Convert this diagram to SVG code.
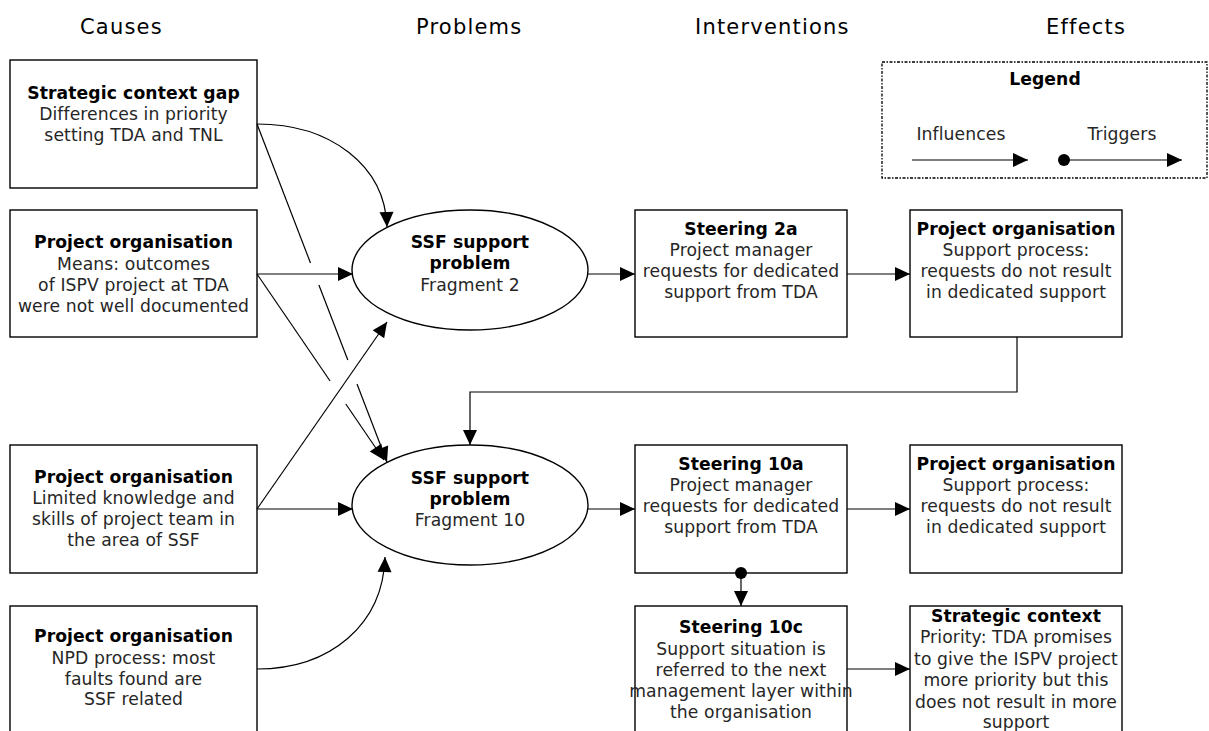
<svg xmlns="http://www.w3.org/2000/svg" width="1209" height="731" viewBox="0 0 1209 731">
  <style>
    text { font-family: "DejaVu Sans", Verdana, sans-serif; fill: #262626; }
    .hdr { font-size: 21px; letter-spacing: 1.2px; fill: #000; }
    .t { font-size: 17.2px; text-anchor: middle; letter-spacing: 0.1px; }
    .b { font-weight: bold; fill: #000; }
    .node { fill: #fff; stroke: #000; stroke-width: 1.4; }
    .edge { fill: none; stroke: #000; stroke-width: 1.2; }
    .legend-box { fill: #fff; stroke: #000; stroke-width: 1.3; stroke-dasharray: 3 1.5 1.5 1.5; }
  </style>
  <defs>
    <marker id="arrow" markerUnits="userSpaceOnUse" markerWidth="15" markerHeight="14" viewBox="0 0 15 14" refX="15" refY="7" orient="auto" overflow="visible">
      <path d="M0,0 L15,7 L0,14 Z" fill="#000"/>
    </marker>
    <marker id="dot" markerUnits="userSpaceOnUse" markerWidth="12" markerHeight="12" viewBox="0 0 12 12" refX="6" refY="6" orient="auto" overflow="visible">
      <circle cx="6" cy="6" r="6" fill="#000"/>
    </marker>
  </defs>

  <rect width="1209" height="731" fill="#fff"/>

  <!-- column headers -->
  <g id="headers">
    <text class="hdr" x="80" y="34">Causes</text>
    <text class="hdr" x="416" y="34">Problems</text>
    <text class="hdr" x="695" y="34">Interventions</text>
    <text class="hdr" x="1046" y="34">Effects</text>
  </g>

  <!-- legend -->
  <g id="legend">
    <rect class="legend-box" x="882" y="62" width="325" height="116"/>
    <text class="t b" x="1045" y="85">Legend</text>
    <text class="t" x="961" y="140">Influences</text>
    <text class="t" x="1122" y="140">Triggers</text>
    <line class="edge" x1="912" y1="160" x2="1028" y2="160" marker-end="url(#arrow)"/>
    <line class="edge" x1="1064" y1="160" x2="1182" y2="160" marker-start="url(#dot)" marker-end="url(#arrow)"/>
  </g>

  <!-- causes -->
  <g id="cause-strategic-gap">
    <rect class="node" x="10" y="60" width="247" height="128"/>
    <text class="t" x="133.5"><tspan class="b" x="133.5" y="99">Strategic context gap</tspan><tspan x="133.5" y="120">Differences in priority</tspan><tspan x="133.5" y="141">setting TDA and TNL</tspan></text>
  </g>
  <g id="cause-means">
    <rect class="node" x="10" y="210" width="247" height="127"/>
    <text class="t" x="133.5"><tspan class="b" x="133.5" y="248">Project organisation</tspan><tspan x="133.5" y="270">Means:  outcomes</tspan><tspan x="133.5" y="291">of ISPV project at TDA</tspan><tspan x="133.5" y="312">were not well documented</tspan></text>
  </g>
  <g id="cause-knowledge">
    <rect class="node" x="10" y="445" width="247" height="128"/>
    <text class="t" x="133.5"><tspan class="b" x="133.5" y="483">Project organisation</tspan><tspan x="133.5" y="504">Limited knowledge and</tspan><tspan x="133.5" y="525">skills of project team in</tspan><tspan x="133.5" y="546">the area of SSF</tspan></text>
  </g>
  <g id="cause-npd">
    <rect class="node" x="10" y="606" width="247" height="140"/>
    <text class="t" x="133.5"><tspan class="b" x="133.5" y="642">Project organisation</tspan><tspan x="133.5" y="664">NPD process:  most</tspan><tspan x="133.5" y="685">faults found are</tspan><tspan x="133.5" y="705">SSF related</tspan></text>
  </g>

  <!-- problems -->
  <g id="problem-fragment-2">
    <ellipse class="node" cx="470" cy="270" rx="118" ry="60"/>
    <text class="t" x="470"><tspan class="b" x="470" y="248">SSF support</tspan><tspan class="b" x="470" y="269">problem</tspan><tspan x="470" y="291">Fragment 2</tspan></text>
  </g>
  <g id="problem-fragment-10">
    <ellipse class="node" cx="470" cy="505" rx="118" ry="60"/>
    <text class="t" x="470"><tspan class="b" x="470" y="484">SSF support</tspan><tspan class="b" x="470" y="505">problem</tspan><tspan x="470" y="526">Fragment 10</tspan></text>
  </g>

  <!-- interventions -->
  <g id="steering-2a">
    <rect class="node" x="635" y="210" width="212" height="127"/>
    <text class="t" x="741"><tspan class="b" x="741" y="235">Steering 2a</tspan><tspan x="741" y="256">Project manager</tspan><tspan x="741" y="277">requests for dedicated</tspan><tspan x="741" y="298">support from TDA</tspan></text>
  </g>
  <g id="steering-10a">
    <rect class="node" x="635" y="445" width="212" height="128"/>
    <text class="t" x="741"><tspan class="b" x="741" y="470">Steering 10a</tspan><tspan x="741" y="491">Project manager</tspan><tspan x="741" y="512">requests for dedicated</tspan><tspan x="741" y="533">support from TDA</tspan></text>
  </g>
  <g id="steering-10c">
    <rect class="node" x="635" y="606" width="212" height="140"/>
    <text class="t" x="741"><tspan class="b" x="741" y="633">Steering 10c</tspan><tspan x="741" y="655">Support situation is</tspan><tspan x="741" y="676">referred to the next</tspan><tspan x="741" y="697">management layer within</tspan><tspan x="741" y="718">the organisation</tspan></text>
  </g>

  <!-- effects -->
  <g id="effect-support-2">
    <rect class="node" x="910" y="210" width="212" height="127"/>
    <text class="t" x="1016"><tspan class="b" x="1016" y="235">Project organisation</tspan><tspan x="1016" y="256">Support process:</tspan><tspan x="1016" y="277">requests do not result</tspan><tspan x="1016" y="298">in dedicated support</tspan></text>
  </g>
  <g id="effect-support-10">
    <rect class="node" x="910" y="445" width="212" height="128"/>
    <text class="t" x="1016"><tspan class="b" x="1016" y="470">Project organisation</tspan><tspan x="1016" y="491">Support process:</tspan><tspan x="1016" y="512">requests do not result</tspan><tspan x="1016" y="533">in dedicated support</tspan></text>
  </g>
  <g id="effect-strategic">
    <rect class="node" x="910" y="606" width="212" height="140"/>
    <text class="t" x="1016"><tspan class="b" x="1016" y="622">Strategic context</tspan><tspan x="1016" y="643">Priority:  TDA promises</tspan><tspan x="1016" y="665">to give the ISPV project</tspan><tspan x="1016" y="686">more priority but this</tspan><tspan x="1016" y="708">does not result in more</tspan><tspan x="1016" y="728">support</tspan></text>
  </g>

  <!-- connectors, drawn over the node outlines -->
  <g id="connectors">
    <!-- strategic context gap -> fragment 2 -->
    <path class="edge" d="M257,124 C330,124 385,165 387,227" marker-end="url(#arrow)"/>
    <!-- strategic context gap -> fragment 10 (broken at crossings) -->
    <polyline class="edge" points="257,124 310.5,263"/>
    <polyline class="edge" points="318.9,285 347.8,360"/>
    <polyline class="edge" points="357,384 387,462" marker-end="url(#arrow)"/>
    <!-- means box -> fragment 2 -->
    <line class="edge" x1="257" y1="274" x2="353" y2="274" marker-end="url(#arrow)"/>
    <!-- means box -> fragment 10 (broken at crossing) -->
    <polyline class="edge" points="257,274 330.1,381"/>
    <polyline class="edge" points="345.8,404 384,460" marker-end="url(#arrow)"/>
    <!-- limited knowledge -> fragment 2 -->
    <line class="edge" x1="257" y1="509" x2="387" y2="322" marker-end="url(#arrow)"/>
    <!-- limited knowledge -> fragment 10 -->
    <line class="edge" x1="257" y1="509" x2="353" y2="509" marker-end="url(#arrow)"/>
    <!-- NPD process -> fragment 10 -->
    <path class="edge" d="M257,669 C330,669 383,625 385,557" marker-end="url(#arrow)"/>
    <!-- fragment 2 -> steering 2a -> effect -->
    <line class="edge" x1="588" y1="274" x2="635" y2="274" marker-end="url(#arrow)"/>
    <line class="edge" x1="847" y1="274" x2="910" y2="274" marker-end="url(#arrow)"/>
    <!-- effect feeds back into fragment 10 -->
    <path class="edge" d="M1017,337 V392 H470 V445" marker-end="url(#arrow)"/>
    <!-- fragment 10 -> steering 10a -> effect -->
    <line class="edge" x1="588" y1="509" x2="635" y2="509" marker-end="url(#arrow)"/>
    <line class="edge" x1="847" y1="509" x2="910" y2="509" marker-end="url(#arrow)"/>
    <!-- steering 10a triggers steering 10c -->
    <line class="edge" x1="741" y1="573" x2="741" y2="606" marker-start="url(#dot)" marker-end="url(#arrow)"/>
    <!-- steering 10c -> strategic context -->
    <line class="edge" x1="847" y1="669" x2="910" y2="669" marker-end="url(#arrow)"/>
  </g>
</svg>
